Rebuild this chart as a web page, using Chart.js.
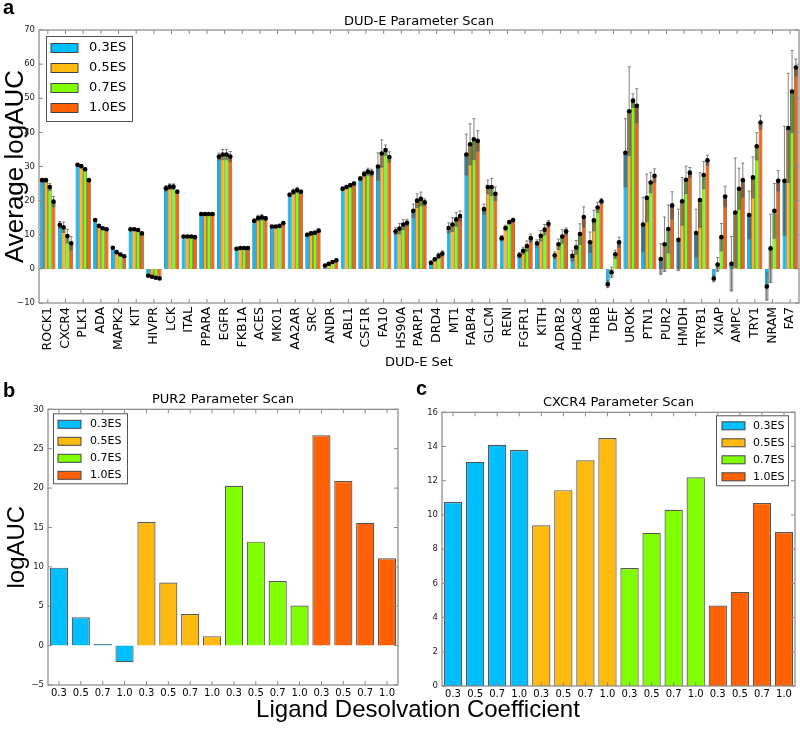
<!DOCTYPE html>
<html>
<head>
<meta charset="utf-8">
<title>DUD-E Parameter Scan</title>
<script src="https://cdn.jsdelivr.net/npm/chart.js@4.4.1/dist/chart.umd.min.js"></script>
<style>
  html, body { margin: 0; padding: 0; background: #fff; }
  #page { position: relative; width: 800px; height: 731px; overflow: hidden; }
  canvas { position: absolute; }
  #chartA { left: 0; top: 0; }
  #chartB { left: 0; top: 370px; }
  #chartC { left: 405px; top: 370px; }
  .panel-tag { position: absolute; font: bold 20px 'Liberation Sans', Arial, sans-serif; line-height: 20px; color: #000; }
  #xLabel { position: absolute; left: 218px; width: 400px; top: 695px; text-align: center;
            font: 24px 'Liberation Sans', Arial, sans-serif; line-height: 28px; color: #000; }
</style>
</head>
<body>
<div id="page">
  <canvas id="chartA" width="800" height="372"></canvas>
  <canvas id="chartB" width="405" height="361"></canvas>
  <canvas id="chartC" width="395" height="361"></canvas>
  <div class="panel-tag" style="left:3px;top:-3px">a</div>
  <div class="panel-tag" style="left:3px;top:380px">b</div>
  <div class="panel-tag" style="left:416px;top:378px">c</div>
  <div id="xLabel">Ligand Desolvation Coefficient</div>
</div>
<script>
// --- Data ---

const dudeSets = ['ROCK1', 'CXCR4', 'PLK1', 'ADA', 'MAPK2', 'KIT', 'HIVPR', 'LCK', 'ITAL', 'PPARA',
    'EGFR', 'FKB1A', 'ACES', 'MK01', 'AA2AR', 'SRC', 'ANDR', 'ABL1', 'CSF1R', 'FA10',
    'HS90A', 'PARP1', 'DRD4', 'MT1', 'FABP4', 'GLCM', 'RENI', 'FGFR1', 'KITH', 'ADRB2',
    'HDAC8', 'THRB', 'DEF', 'UROK', 'PTN1', 'PUR2', 'HMDH', 'TRYB1', 'XIAP', 'AMPC',
    'TRY1', 'NRAM', 'FA7'];

// average logAUC per set, one array per ES scaling
const es03 = [26, 12.9, 30.5, 14.3, 6.2, 11.6, -2, 23.6, 9.5, 16.1,
    32.9, 5.9, 14.1, 12.4, 21.7, 10, 1, 23.5, 26.5, 30,
    11, 17, 1.8, 12, 33.5, 17.5, 9, 4, 7.5, 4,
    3.8, 7.8, -4.5, 34, 13, 2.9, 8.5, 10.5, -2.8, 1.5,
    15.8, -5.2, 25.8];
const es05 = [26, 12.2, 30.1, 12.6, 4.9, 11.6, -2.3, 24.1, 9.5, 16.1,
    33.5, 6.1, 14.9, 12.4, 22.6, 10.4, 1.5, 24, 27.8, 33.8,
    11.8, 20, 2.8, 13, 36.5, 24, 12, 5.3, 9.7, 7.2,
    6.3, 14.2, -1, 46.2, 20.8, 7.2, 19.8, 20.2, 1.3, 16.5,
    26.8, 6, 41.3];
const es07 = [24, 9.6, 29.2, 11.9, 4.2, 11.4, -2.6, 24.1, 9.5, 16.1,
    33.5, 6.1, 15.1, 12.6, 23.1, 10.6, 2, 24.5, 28.5, 34.8,
    13, 20.5, 3.8, 14.5, 38, 24, 13.7, 6.7, 11.5, 9.5,
    10.2, 18, 4.3, 49.3, 25.3, 11.7, 26.1, 27.5, 9.3, 23.5,
    35.9, 17, 52];
const es10 = [19.7, 7.5, 26, 11.6, 3.7, 10.4, -2.8, 22.6, 9.3, 16.1,
    32.9, 6.1, 14.8, 13.4, 22.6, 11.2, 2.5, 25, 28.2, 32.8,
    13.5, 19.5, 4.5, 15.5, 37.5, 22, 14.3, 9, 13.2, 11,
    15.2, 19.8, 7.8, 47.8, 27.3, 18.6, 28.2, 31.8, 21.2, 26,
    42.9, 25.8, 59];

// error bar half-lengths
const err03 = [0.5, 1, 0.3, 0.3, 0.3, 0.3, 0.3, 0.8, 0.2, 0.2,
    1, 0.3, 0.5, 0.3, 0.5, 0.5, 0.3, 0.5, 0.5, 4,
    1, 2, 0.5, 1.5, 6, 1.5, 0.8, 0.8, 1, 1,
    1.5, 3, 1, 10, 8, 4.5, 9, 7, 1, 8,
    7, 4, 16];
const err05 = [0.5, 1.5, 0.3, 0.3, 0.3, 0.3, 0.3, 0.8, 0.2, 0.2,
    1.5, 0.3, 0.8, 0.3, 0.8, 0.5, 0.3, 0.5, 0.8, 4,
    1.5, 2, 0.5, 2, 6, 2, 0.8, 1, 1.5, 1.5,
    2, 3, 1.5, 13, 7, 8, 7, 8, 2, 16,
    6, 10, 16];
const err07 = [1, 2, 0.4, 0.3, 0.3, 0.3, 0.3, 0.8, 0.2, 0.2,
    1.5, 0.3, 0.8, 0.3, 0.8, 0.5, 0.3, 0.5, 1, 1.5,
    1.5, 2, 0.8, 2, 6, 2.5, 0.5, 1.5, 1.5, 2,
    3, 1.5, 1.2, 2, 3, 7, 4, 4, 4, 6,
    4, 8, 12];
const err10 = [1.5, 2, 0.4, 0.3, 0.3, 0.3, 0.3, 0.5, 0.2, 0.2,
    1.5, 0.3, 0.5, 0.3, 0.5, 0.5, 0.3, 0.5, 1, 1.5,
    1, 1, 0.8, 1.5, 3, 2, 0.5, 1.2, 1, 1,
    3, 0.8, 1.5, 5, 2, 4, 1.5, 1.5, 3, 5,
    2, 3, 2.5];

const esNames = ['0.3ES', '0.5ES', '0.7ES', '1.0ES'];
const esColors = ['#00BFFF', '#FFB90F', '#7FFF00', '#FF6103'];
const coeffs = ['0.3', '0.5', '0.7', '1.0'];

// PUR2 single-target scan (panel b)
const pur2ES03 = [9.9, 3.6, 0.2, -2.1];
const pur2ES05 = [15.7, 8.0, 4.0, 1.2];
const pur2ES07 = [20.3, 13.2, 8.2, 5.1];
const pur2ES10 = [26.7, 20.9, 15.6, 11.1];

// CXCR4 single-target scan (panel c)
const cxcr4ES03 = [10.75, 13.1, 14.1, 13.8];
const cxcr4ES05 = [9.4, 11.45, 13.2, 14.5];
const cxcr4ES07 = [6.9, 8.95, 10.3, 12.2];
const cxcr4ES10 = [4.7, 5.5, 10.7, 9.0];

// --- Helpers ---

Chart.defaults.font.family = "'DejaVu Sans', sans-serif";
Chart.defaults.color = '#000';

const minusSign = v => String(v).replace('-', '\u2212');

function drawErrors(chart) {
    const { ctx, scales: { y } } = chart;
    chart.data.datasets.forEach((ds, di) => {
        chart.getDatasetMeta(di).data.forEach((bar, j) => {
            const v = ds.data[j], e = ds.errors[j];
            const pv = y.getPixelForValue(v);
            const lo = y.getPixelForValue(v - e);
            const hi = y.getPixelForValue(v + e);
            ctx.fillStyle = 'rgba(40,40,40,0.35)';
            ctx.fillRect(bar.x - bar.width / 2, pv, bar.width, lo - pv);
            ctx.strokeStyle = 'rgba(100,100,100,0.8)';
            ctx.lineWidth = 1;
            ctx.beginPath();
            ctx.moveTo(bar.x, hi); ctx.lineTo(bar.x, lo);
            ctx.moveTo(bar.x - 1.5, hi); ctx.lineTo(bar.x + 1.5, hi);
            ctx.moveTo(bar.x - 1.5, lo); ctx.lineTo(bar.x + 1.5, lo);
            ctx.stroke();
        });
    });
    // mean markers
    ctx.fillStyle = '#000';
    chart.data.datasets.forEach((ds, di) => {
        chart.getDatasetMeta(di).data.forEach((bar, j) => {
            ctx.beginPath();
            ctx.arc(bar.x, y.getPixelForValue(ds.data[j]), 2.3, 0, Math.PI * 2);
            ctx.fill();
        });
    });
}

function drawLegend(chart, o) {
    const { ctx, chartArea: ca } = chart;
    const x0 = o.side === 'left' ? ca.left + o.dx : ca.right - o.dx - o.w;
    const y0 = ca.top + o.dy;
    ctx.fillStyle = '#fff';
    ctx.fillRect(x0, y0, o.w, o.h);
    ctx.strokeStyle = '#555';
    ctx.lineWidth = 1;
    ctx.strokeRect(x0 + 0.5, y0 + 0.5, o.w, o.h);
    ctx.font = o.size + "px 'DejaVu Sans'";
    ctx.textBaseline = 'middle';
    ctx.textAlign = 'left';
    esNames.forEach((name, i) => {
        const cy = y0 + o.first + i * o.row;
        ctx.fillStyle = esColors[i];
        ctx.fillRect(x0 + o.px, cy - o.ph / 2, o.pw, o.ph);
        ctx.strokeStyle = '#444';
        ctx.strokeRect(x0 + o.px, cy - o.ph / 2, o.pw, o.ph);
        ctx.fillStyle = '#000';
        ctx.fillText(name, x0 + o.tx, cy);
    });
}

// frame, inward ticks, error bars and legend box (matplotlib look)
const decor = {
    id: 'decor',
    afterDatasetsDraw(chart, args, opts) {
        const { ctx, chartArea: ca, scales: { x, y } } = chart;
        ctx.save();
        if (opts.errors) drawErrors(chart);
        ctx.strokeStyle = '#888';
        ctx.lineWidth = 1.2;
        ctx.strokeRect(ca.left, ca.top, ca.right - ca.left, ca.bottom - ca.top);
        ctx.lineWidth = 1;
        ctx.beginPath();
        x.ticks.forEach((t, i) => {
            const px = x.getPixelForTick(i);
            ctx.moveTo(px, ca.bottom); ctx.lineTo(px, ca.bottom - 4);
            ctx.moveTo(px, ca.top); ctx.lineTo(px, ca.top + 4);
        });
        y.ticks.forEach((t, i) => {
            const py = y.getPixelForTick(i);
            ctx.moveTo(ca.left, py); ctx.lineTo(ca.left + 4, py);
            ctx.moveTo(ca.right, py); ctx.lineTo(ca.right - 4, py);
        });
        ctx.stroke();
        if (opts.legend) drawLegend(chart, opts.legend);
        ctx.restore();
    }
};

const noGrid = { display: false, drawTicks: false };
const noBorder = { display: false };
const bigFont = "'Liberation Sans', Arial, sans-serif";

// --- Panel a: DUD-E parameter scan ---
const seriesA = [es03, es05, es07, es10];
const errorsA = [err03, err05, err07, err10];

new Chart(document.getElementById('chartA'), {
    type: 'bar',
    data: {
        labels: dudeSets,
        datasets: seriesA.map((d, i) => ({
            label: esNames[i],
            data: d,
            errors: errorsA[i],
            backgroundColor: esColors[i],
            borderColor: '#3a3a3a',
            borderWidth: 0.7,
            categoryPercentage: 0.86,
            barPercentage: 1
        }))
    },
    options: {
        responsive: false,
        animation: false,
        devicePixelRatio: 1,
        layout: { padding: { left: 0, right: 1, top: 0, bottom: 0 } },
        plugins: {
            legend: { display: false },
            tooltip: { enabled: false },
            title: {
                display: true, text: 'DUD-E Parameter Scan', fullSize: false, color: '#000',
                font: { size: 13, weight: 'normal' }, padding: { top: 14, bottom: 0.4 }
            },
            decor: {
                errors: true,
                legend: { side: 'left', dx: 7, dy: 6, w: 86, h: 85, first: 12, row: 20, px: 5, pw: 27, ph: 9, tx: 43, size: 13 }
            }
        },
        scales: {
            x: {
                grid: noGrid, border: noBorder,
                ticks: { autoSkip: false, minRotation: 90, maxRotation: 90, padding: 4, font: { size: 12.5 }, color: '#000' },
                title: { display: true, text: 'DUD-E Set', font: { size: 13 }, color: '#000', padding: { top: 0, bottom: 1.6 } },
                afterFit: s => { s.height = 69; s.paddingLeft = 0; s.paddingRight = 0; }
            },
            y: {
                min: -10, max: 70,
                grid: noGrid, border: noBorder,
                ticks: { stepSize: 10, padding: 4, font: { size: 8.5 }, color: '#222', callback: minusSign },
                title: { display: true, text: 'Average logAUC', font: { size: 26, family: bigFont }, color: '#000', padding: { top: 0, bottom: 0 } },
                afterFit: s => { s.width = 39; s.paddingTop = 0; s.paddingBottom = 0; }
            }
        }
    },
    plugins: [decor]
});

// --- Panels b and c: single-target scans ---
const groupLabels = esNames.flatMap(() => coeffs);
const groupColors = esColors.flatMap(c => coeffs.map(() => c));

function singleScan(canvasId, title, values, yMin, yMax, step, geom) {
    return new Chart(document.getElementById(canvasId), {
        type: 'bar',
        data: {
            labels: groupLabels,
            datasets: [{
                label: title,
                data: values,
                backgroundColor: groupColors,
                borderColor: '#555',
                borderWidth: 1.2,
                categoryPercentage: 1,
                barPercentage: 0.83
            }]
        },
        options: {
            responsive: false,
            animation: false,
            devicePixelRatio: 1,
            layout: { padding: { left: 0, right: geom.right, top: 0, bottom: 0 } },
            plugins: {
                legend: { display: false },
                tooltip: { enabled: false },
                title: {
                    display: true, text: title, fullSize: false, color: '#000',
                    font: { size: 13, weight: 'normal' }, padding: { top: geom.titleTop, bottom: 1.5 }
                },
                decor: { errors: false, legend: geom.legend }
            },
            scales: {
                x: {
                    grid: noGrid, border: noBorder,
                    ticks: { autoSkip: false, maxRotation: 0, padding: 2, font: { size: 10 }, color: '#000' },
                    afterFit: s => { s.height = geom.xHeight; s.paddingLeft = 0; s.paddingRight = 0; }
                },
                y: {
                    min: yMin, max: yMax,
                    grid: noGrid, border: noBorder,
                    ticks: { stepSize: step, padding: 4, font: { size: 8.5 }, color: '#222', callback: minusSign },
                    title: { display: !!geom.yTitle, text: geom.yTitle || '', font: { size: 24, family: bigFont }, color: '#000', padding: { top: 3, bottom: 0 } },
                    afterFit: s => { s.width = geom.yWidth; s.paddingTop = 0; s.paddingBottom = 0; }
                }
            }
        },
        plugins: [decor]
    });
}

singleScan('chartB', 'PUR2 Parameter Scan',
    [...pur2ES03, ...pur2ES05, ...pur2ES07, ...pur2ES10], -5, 30, 5,
    {
        right: 7, titleTop: 22.2, xHeight: 46, yWidth: 48, yTitle: 'logAUC',
        legend: { side: 'left', dx: 5, dy: 4, w: 74, h: 70, first: 11, row: 17, px: 5, pw: 23, ph: 8, tx: 37, size: 11 }
    });

singleScan('chartC', 'CXCR4 Parameter Scan',
    [...cxcr4ES03, ...cxcr4ES05, ...cxcr4ES07, ...cxcr4ES10], 0, 16, 2,
    {
        right: 5, titleTop: 25.2, xHeight: 45, yWidth: 37, yTitle: null,
        legend: { side: 'right', dx: 7, dy: 3, w: 72, h: 70, first: 10.5, row: 17, px: 6, pw: 23, ph: 8, tx: 37, size: 11 }
    });
</script>
</body>
</html>
